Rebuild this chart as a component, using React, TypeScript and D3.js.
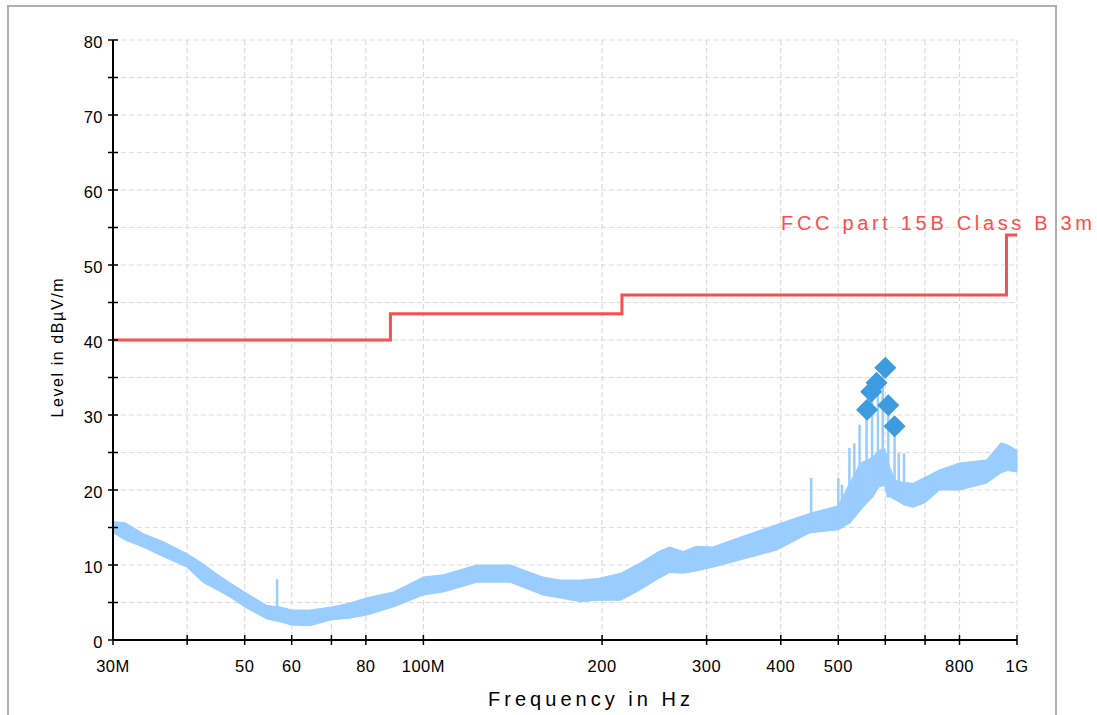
import React from 'react';
import * as d3 from 'd3';

// measured spectrum, read as a band (lower / upper edge) in dBµV/m
const traceFreqs = [30, 31.5, 33.7, 36.5, 40, 42.5, 44.9, 47.5, 50, 54.5, 57.5, 60, 64.4, 70, 75, 80, 89, 100, 108, 123, 140, 159, 170, 184, 197, 215, 232, 249, 260, 274, 288, 307, 350, 394, 448, 500, 523, 545, 559, 572, 585, 598, 605, 610, 624, 645, 668, 700, 741, 800, 888, 940, 965, 1000];
const traceLow = [14.3, 13.3, 12.4, 11.1, 9.7, 7.7, 6.7, 5.6, 4.4, 2.8, 2.4, 2.0, 1.9, 2.7, 2.9, 3.3, 4.4, 6.0, 6.4, 7.7, 7.7, 6.0, 5.6, 5.1, 5.3, 5.3, 6.7, 8.2, 9.0, 8.9, 9.2, 9.7, 10.9, 12.0, 14.3, 14.7, 15.6, 17.3, 18.3, 19.1, 20.4, 20.6, 19.0, 19.1, 18.7, 18.0, 17.7, 18.3, 20.0, 20.0, 20.9, 22.3, 22.6, 22.4];
const traceHigh = [15.8, 15.6, 14.2, 13.1, 11.5, 10.2, 8.8, 7.5, 6.4, 4.6, 4.4, 4.0, 4.0, 4.4, 4.9, 5.6, 6.4, 8.4, 8.7, 10.0, 10.0, 8.4, 8.0, 8.0, 8.2, 8.9, 10.3, 11.8, 12.4, 11.8, 12.5, 12.4, 14.0, 15.4, 16.9, 17.9, 21.0, 23.6, 24.0, 24.4, 25.3, 25.5, 24.5, 23.1, 21.3, 21.0, 20.9, 21.7, 22.7, 23.6, 24.0, 26.3, 26.0, 25.3];

// narrow emissions sticking out of the trace
const spikeFreqs = [56.7, 450, 500, 507, 522, 532, 543, 558, 570, 583, 594, 607, 622, 632, 645];
const spikeLevels = [8.1, 21.6, 21.6, 20.7, 25.6, 26.2, 28.7, 30.7, 32.3, 33.3, 36.0, 30.7, 27.6, 24.9, 24.9];

// final measurement points
const markerFreqs = [559, 568, 580, 600, 607, 622];
const markerLevels = [30.7, 33.1, 34.3, 36.3, 31.3, 28.5];

// limit line
const limitFreqs = [30, 88, 216, 960, 1000];
const limitLevels = [40, 43.5, 46, 54, 54];
const limitName = 'FCC part 15B Class B  3m';

const xTicks = [30, 40, 50, 60, 70, 80, 100, 200, 300, 400, 500, 600, 700, 800, 1000];
const xTickLabels = ['30M', '', '50', '60', '', '80', '100M', '200', '300', '400', '500', '', '', '800', '1G'];
const yTicks = d3.range(0, 81, 5);

const font = '"Liberation Sans", Arial, sans-serif';

export default function App() {
  const x = d3.scaleLog().domain([30, 1000]).range([113, 1017]);
  const y = d3.scaleLinear().domain([0, 80]).range([640, 40]);

  const band = d3
    .area<number>()
    .x((f) => x(f))
    .y0((_, i) => y(traceLow[i]))
    .y1((_, i) => y(traceHigh[i]));

  const limit = d3
    .line<number>()
    .x((f) => x(f))
    .y((_, i) => y(limitLevels[i]))
    .curve(d3.curveStepAfter);

  // base of a spike = lower edge of the band at that frequency
  const lowAt = (f: number) => {
    const i = Math.max(1, d3.bisectLeft(traceFreqs, f));
    const f0 = traceFreqs[i - 1];
    const f1 = traceFreqs[i];
    const t = (Math.log(f) - Math.log(f0)) / (Math.log(f1) - Math.log(f0));
    return traceLow[i - 1] + t * (traceLow[i] - traceLow[i - 1]);
  };

  const diamond = d3.symbol(d3.symbolSquare, 243)();

  return (
    <svg
      width={1097}
      height={715}
      style={{ position: 'absolute', left: 0, top: 0, background: '#fff' }}
      fontFamily={font}
    >
      <rect x={8} y={6} width={1048} height={740} fill="none" stroke="#b0b0b0" strokeWidth={2} />

      {/* grid */}
      <g stroke="#dcdcdc" strokeWidth={1.2} strokeDasharray="5,3">
        {yTicks.filter((t) => t > 0).map((t) => (
          <line key={'gy' + t} x1={x(30)} x2={x(1000)} y1={y(t)} y2={y(t)} />
        ))}
        {xTicks.filter((t) => t > 30).map((t) => (
          <line key={'gx' + t} x1={x(t)} x2={x(t)} y1={y(80)} y2={y(0)} />
        ))}
      </g>

      {/* trace */}
      <path d={band(traceFreqs) || ''} fill="#99ccff" stroke="#99ccff" strokeWidth={1} />
      <g stroke="#99ccff" strokeWidth={2.5}>
        {spikeFreqs.map((f, i) => (
          <line key={'s' + i} x1={x(f)} x2={x(f)} y1={y(lowAt(f))} y2={y(spikeLevels[i])} />
        ))}
      </g>

      {/* limit */}
      <path d={limit(limitFreqs) || ''} fill="none" stroke="#ff4d4d" strokeWidth={3} />
      <text x={781} y={230} fontSize={20} fill="#ff4d4d" textLength={311} lengthAdjust="spacing">
        {limitName}
      </text>

      {/* markers */}
      <g fill="#3d9be0">
        {markerFreqs.map((f, i) => (
          <path key={'m' + i} d={diamond || ''} transform={`translate(${x(f)},${y(markerLevels[i])}) rotate(45)`} />
        ))}
      </g>

      {/* axes */}
      <g stroke="#000">
        <line x1={x(30)} x2={x(30)} y1={y(80)} y2={y(0)} strokeWidth={2} />
        <line x1={x(30)} x2={x(1000)} y1={y(0)} y2={y(0)} strokeWidth={2} />
        {yTicks.map((t) => (
          <line key={'ty' + t} x1={x(30) - 5} x2={x(30) + 5} y1={y(t)} y2={y(t)} strokeWidth={1.5} />
        ))}
        {xTicks.map((t) => (
          <line key={'tx' + t} x1={x(t)} x2={x(t)} y1={y(0) - 5} y2={y(0) + 5} strokeWidth={1.5} />
        ))}
      </g>
      <g fontSize={16.5} fill="#000">
        {yTicks.filter((t) => t % 10 === 0).map((t) => (
          <text key={'ly' + t} x={103} y={y(t) + 8} textAnchor="end" letterSpacing={0.5}>
            {t}
          </text>
        ))}
        {xTicks.map((t, i) =>
          xTickLabels[i] ? (
            <text key={'lx' + t} x={x(t)} y={672} textAnchor="middle" letterSpacing={0.5}>
              {xTickLabels[i]}
            </text>
          ) : null
        )}
      </g>

      <text x={488} y={706} fontSize={20} textLength={202} lengthAdjust="spacing">
        Frequency in Hz
      </text>
      <text
        transform="translate(63,348) rotate(-90)"
        textAnchor="middle"
        fontSize={16}
        textLength={139}
        lengthAdjust="spacing"
      >
        Level in dBµV/m
      </text>
    </svg>
  );
}
